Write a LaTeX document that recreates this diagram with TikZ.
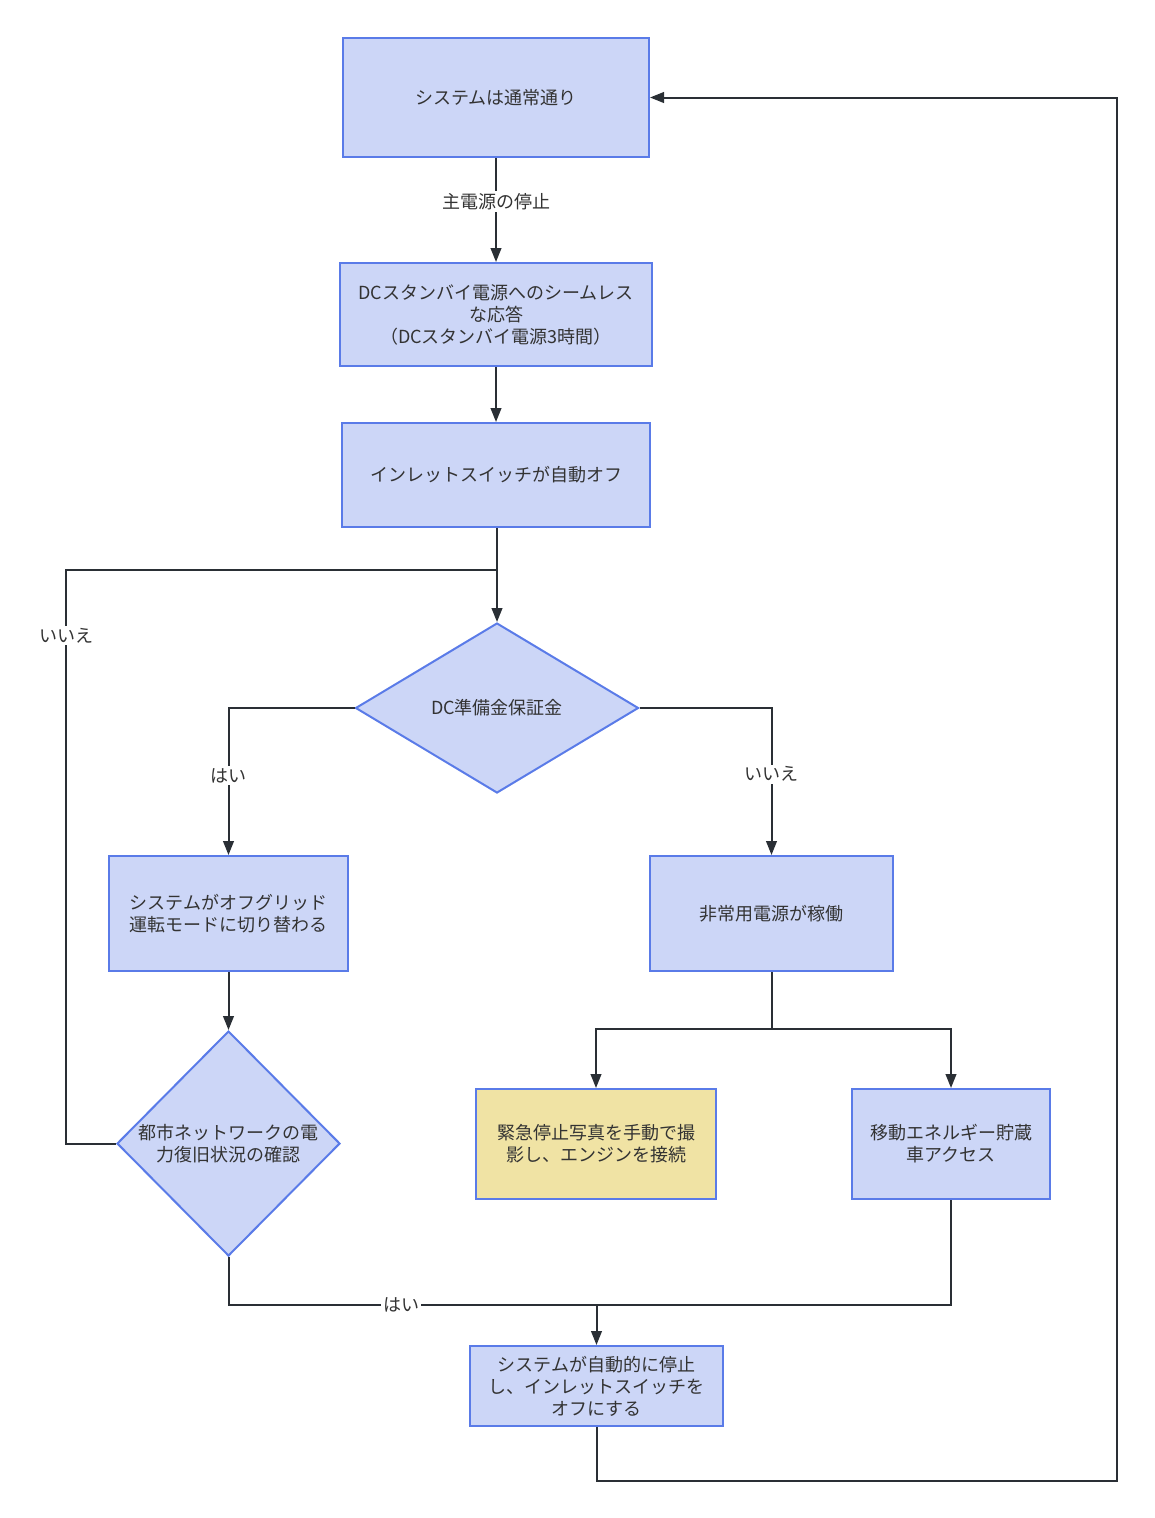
\documentclass[tikz,border=0pt]{standalone}
\usepackage{fontspec}
\setmainfont{Noto Sans CJK JP}
\usetikzlibrary{shapes.geometric,arrows.meta}
\definecolor{boxfill}{HTML}{CCD6F7}
\definecolor{boxline}{HTML}{5A7BE8}
\definecolor{yelfill}{HTML}{F0E3A4}
\definecolor{conn}{HTML}{2A2F35}
\definecolor{txt}{HTML}{333333}
\tikzset{
  px/.style={x=0.75pt,y=-0.75pt},
  procbox/.style={draw=boxline, fill=boxfill, line width=1.5pt, rectangle, align=center,
     text=txt, inner sep=0pt, font=\fontsize{13.5}{16.5}\selectfont},
  decbox/.style={draw=boxline, fill=boxfill, line width=1.5pt, diamond, align=center,
     text=txt, inner sep=0pt, font=\fontsize{13.5}{16.5}\selectfont},
  conline/.style={draw=conn, line width=1.5pt},
  arr/.style={conline, -{Triangle[length=10.5pt,width=8pt]}},
  elabel/.style={fill=white, text=txt, inner sep=1.5pt, font=\fontsize{13.5}{15}\selectfont},
}
\begin{document}
\begin{tikzpicture}[px]
\useasboundingbox (0,0) rectangle (1154,1518);
% nodes
\node[procbox, minimum width=306*0.75pt, minimum height=119*0.75pt] (n1) at (496,97.5) {システムは通常通り};
\node[procbox, minimum width=312*0.75pt, minimum height=103*0.75pt] (n2) at (496,314.5) {DCスタンバイ電源へのシームレス\\な応答\\（DCスタンバイ電源3時間）};
\node[procbox, minimum width=308*0.75pt, minimum height=104*0.75pt] (n3) at (496,475) {インレットスイッチが自動オフ};
\node[decbox, minimum width=283*0.75pt, minimum height=170*0.75pt] (d1) at (497,708) {DC準備金保証金};
\node[procbox, minimum width=239*0.75pt, minimum height=115*0.75pt] (n4) at (228.5,913.5) {システムがオフグリッド\\運転モードに切り替わる};
\node[procbox, minimum width=243*0.75pt, minimum height=115*0.75pt] (n5) at (771.5,913.5) {非常用電源が稼働};
\node[decbox, minimum width=223*0.75pt, minimum height=225*0.75pt] (d2) at (228.5,1143.5) {都市ネットワークの電\\力復旧状況の確認};
\node[procbox, fill=yelfill, minimum width=240*0.75pt, minimum height=110*0.75pt] (n6) at (596,1144) {緊急停止写真を手動で撮\\影し、エンジンを接続};
\node[procbox, minimum width=198*0.75pt, minimum height=110*0.75pt] (n7) at (951,1144) {移動エネルギー貯蔵\\車アクセス};
\node[procbox, minimum width=253*0.75pt, minimum height=80*0.75pt] (n8) at (596.5,1386) {システムが自動的に停止\\し、インレットスイッチを\\オフにする};
% coordinates
\coordinate (c1) at (66,570);
\coordinate (j1) at (d1.north |- c1);
\coordinate (c2) at (66,1143.5);
\coordinate (j2) at (771.5,1029);
\coordinate (j3) at (596.5,1305);
\coordinate (c3) at (596.5,1481);
\coordinate (c4) at (1117,1481);
\coordinate (c5) at (1117,97.5);
% connectors
\draw[arr] (n1.south) -- node[elabel, pos=0.42] {主電源の停止} (n2.north);
\draw[arr] (n2.south) -- (n3.north);
\draw[conline] (j1 |- n3.south) -- (j1);
\draw[arr] (j1) -- (d1.north);
\draw[arr] (d1.west) -| node[elabel, pos=0.73] {はい} (n4.north);
\draw[arr] (d1.east) -| node[elabel, pos=0.725] {いいえ} (n5.north);
\draw[arr] (n4.south) -- (d2.north);
\draw[conline] (d2.west) -- (c2) -- node[elabel, pos=0.885] {いいえ} (c1) -- (j1);
\draw[conline] (n5.south) -- (j2);
\draw[arr] (j2) -| (n6.north);
\draw[arr] (j2) -| (n7.north);
\draw[conline] (d2.south) |- node[elabel, pos=0.735] {はい} (j3);
\draw[conline] (n7.south) |- (j3);
\draw[arr] (j3) -- (n8.north);
\draw[arr] (n8.south) -- (c3) -- (c4) -- (c5) -- (n1.east);
\end{tikzpicture}
\end{document}
